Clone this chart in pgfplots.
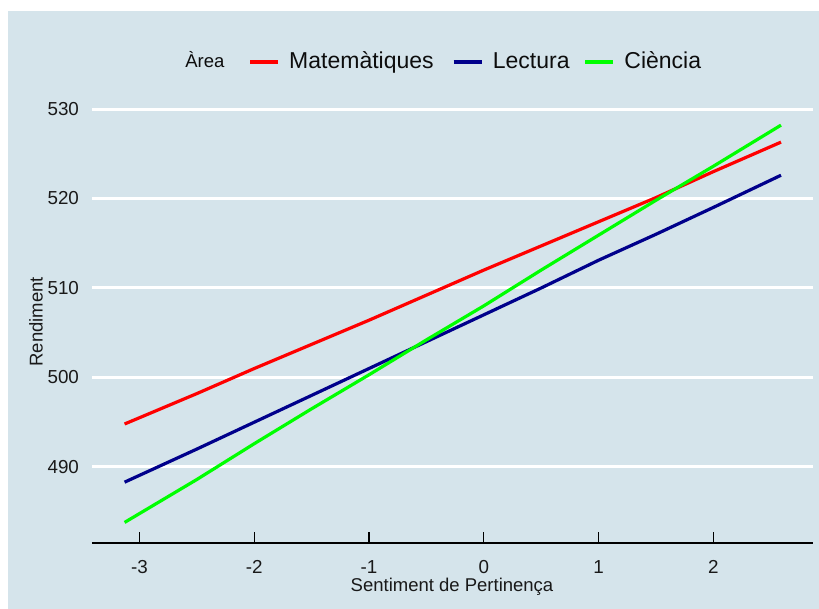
\documentclass[border=0pt]{standalone}
\usepackage{fontspec}
\setmainfont{Liberation Sans}
\usepackage{pgfplots}
\pgfplotsset{compat=1.18}
\definecolor{bgcol}{HTML}{D5E4EB}
\definecolor{navy}{HTML}{00008B}
\definecolor{lime}{HTML}{00FF00}
\begin{document}
\begin{tikzpicture}
\path[use as bounding box, fill=white] (0pt,0pt) rectangle (409.5pt,-304.5pt);
\fill[bgcol] (4pt,-5.5pt) rectangle (409.5pt,-304.5pt);
\begin{axis}[
  at={(46pt,-271.5pt)}, anchor=south west,
  scale only axis, width=360.5pt, height=219pt,
  xmin=-3.414, xmax=2.869, ymin=481.5, ymax=530.45,
  xtick={-3,-2,-1,0,1,2}, ytick={490,500,510,520,530},
  separate axis lines,
  axis x line*=bottom, axis y line*=left,
  x axis line style={-, black, line width=0.6pt},
  y axis line style={draw=none},
  xtick align=inside,
  major tick length=5.5pt,
  xtick style={black, line width=0.6pt},
  ytick style={draw=none},
  ymajorgrids, major grid style={white, line width=1.5pt},
  /pgf/number format/assume math mode=true,
  tick label style={font=\fontsize{9.4}{10}\selectfont, text=black!90},
  xticklabel style={yshift=-5pt},
  yticklabel style={xshift=-3pt},
  xlabel={Sentiment de Pertinença},
  ylabel={Rendiment},
  label style={font=\fontsize{9.25}{10}\selectfont, text=black!90},
  xlabel style={at={(axis description cs:0.4993,-0.1005)}, anchor=center},
  ylabel style={at={(axis description cs:-0.0777,0.505)}, anchor=center},
  legend style={draw=none, fill=none, inner sep=0pt,
    at={(axis description cs:0.2164,1.0982)}, anchor=west,
    font=\fontsize{11.5}{12}\selectfont, text=black!95,
    legend columns=-1,
    /tikz/every odd column/.append style={column sep=4.8pt},
    /tikz/every even column/.append style={column sep=5.5pt},
    nodes={inner sep=0pt}},
  legend image code/.code={\draw[#1, line width=1.6pt] (0pt,0pt) -- (14pt,0pt);},
  clip=false,
]
\addplot[red, line width=1.6pt] coordinates {
(-3.13,494.8) (-2.5,498.2) (-2,501.0) (-1.5,503.7) (-1,506.4) (-0.5,509.2)
(0,512.0) (0.5,514.7) (1,517.4) (1.5,520.1) (2,523.0) (2.59,526.3)};
\addlegendentry{Matemàtiques\kern3.7pt}
\addplot[navy, line width=1.6pt] coordinates {
(-3.13,488.3) (-2.5,492.0) (-2,495.0) (-1.5,498.0) (-1,501.0) (-0.5,504.0)
(0,507.0) (0.5,510.0) (1,513.1) (1.5,516.0) (2,519.0) (2.59,522.6)};
\addlegendentry{Lectura\kern1.5pt}
\addplot[lime, line width=1.6pt] coordinates {
(-3.13,483.8) (-2.5,488.6) (-2,492.6) (-1.5,496.5) (-1,500.3) (-0.5,504.2)
(0,508.0) (0.5,512.0) (1,515.9) (1.5,519.8) (2,523.6) (2.59,528.2)};
\addlegendentry{Ciència}
\node[anchor=base west, inner sep=0pt, font=\fontsize{9.25}{10}\selectfont, text=black!95]
  at (axis description cs:0.129,1.0845) {Àrea};
\end{axis}
\end{tikzpicture}
\end{document}
